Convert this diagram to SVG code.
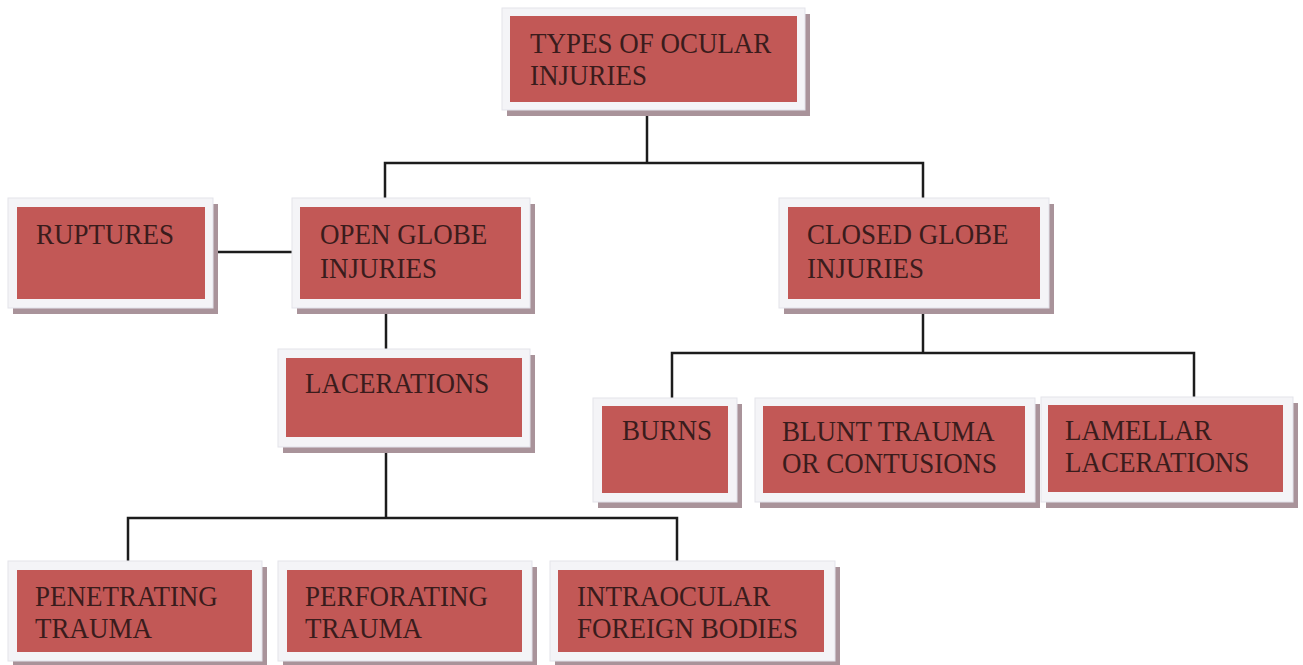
<svg xmlns="http://www.w3.org/2000/svg" width="1303" height="665" viewBox="0 0 1303 665">
<style>
.sh{fill:#a9939a}
.pn{fill:#f4f4f7;stroke:#e3e3ea;stroke-width:1}
.rd{fill:#c25856}
.tx{font-family:"Liberation Serif","Times New Roman",serif;font-size:30px;fill:#3a1c1c}
.cn{fill:none;stroke:#1c1c1c;stroke-width:2.5}
</style>
<rect width="1303" height="665" fill="#ffffff"/>
<g id="connectors" class="cn">
<path d="M647,110 V163"/>
<path d="M385,198 V163 H923 V198"/>
<path d="M213,252 H292"/>
<path d="M386,308 V349"/>
<path d="M923,308 V353"/>
<path d="M672,398 V353 H1194 V397"/>
<path d="M386,447 V518"/>
<path d="M128,561 V518 H677 V561"/>
</g>
<g id="n-types">
<rect class="sh" x="507" y="14" width="303" height="102"/>
<rect class="pn" x="502" y="8" width="303" height="102"/>
<rect class="rd" x="510" y="16" width="287" height="86"/>
<text class="tx" transform="translate(530,53) scale(0.9,1)"><tspan x="0" y="0">TYPES OF OCULAR</tspan><tspan x="0" y="32">INJURIES</tspan></text>
</g>
<g id="n-ruptures">
<rect class="sh" x="13" y="204" width="205" height="110"/>
<rect class="pn" x="8" y="198" width="205" height="110"/>
<rect class="rd" x="17" y="207" width="188" height="92"/>
<text class="tx" transform="translate(36,244) scale(0.9,1)"><tspan x="0" y="0">RUPTURES</tspan></text>
</g>
<g id="n-open">
<rect class="sh" x="297" y="204" width="238" height="110"/>
<rect class="pn" x="292" y="198" width="238" height="110"/>
<rect class="rd" x="300" y="207" width="221" height="92"/>
<text class="tx" transform="translate(320,244) scale(0.9,1)"><tspan x="0" y="0">OPEN GLOBE</tspan><tspan x="0" y="34">INJURIES</tspan></text>
</g>
<g id="n-closed">
<rect class="sh" x="784" y="204" width="270" height="110"/>
<rect class="pn" x="779" y="198" width="270" height="110"/>
<rect class="rd" x="788" y="207" width="252" height="92"/>
<text class="tx" transform="translate(807,244) scale(0.9,1)"><tspan x="0" y="0">CLOSED GLOBE</tspan><tspan x="0" y="34">INJURIES</tspan></text>
</g>
<g id="n-lacerations">
<rect class="sh" x="283" y="355" width="252" height="98"/>
<rect class="pn" x="278" y="349" width="252" height="98"/>
<rect class="rd" x="286" y="358" width="236" height="79"/>
<text class="tx" transform="translate(305,393) scale(0.9,1)"><tspan x="0" y="0">LACERATIONS</tspan></text>
</g>
<g id="n-burns">
<rect class="sh" x="598" y="404" width="144" height="104"/>
<rect class="pn" x="593" y="398" width="144" height="104"/>
<rect class="rd" x="602" y="406" width="126" height="87"/>
<text class="tx" transform="translate(622,440) scale(0.9,1)"><tspan x="0" y="0">BURNS</tspan></text>
</g>
<g id="n-blunt">
<rect class="sh" x="760" y="404" width="280" height="104"/>
<rect class="pn" x="755" y="398" width="280" height="104"/>
<rect class="rd" x="763" y="406" width="262" height="87"/>
<text class="tx" transform="translate(782,441) scale(0.9,1)"><tspan x="0" y="0">BLUNT TRAUMA</tspan><tspan x="0" y="32">OR CONTUSIONS</tspan></text>
</g>
<g id="n-lamellar">
<rect class="sh" x="1046" y="403" width="252" height="105"/>
<rect class="pn" x="1041" y="397" width="252" height="105"/>
<rect class="rd" x="1048" y="405" width="235" height="87"/>
<text class="tx" transform="translate(1065,440) scale(0.9,1)"><tspan x="0" y="0">LAMELLAR</tspan><tspan x="0" y="32">LACERATIONS</tspan></text>
</g>
<g id="n-penetrating">
<rect class="sh" x="13" y="567" width="254" height="100"/>
<rect class="pn" x="8" y="561" width="254" height="100"/>
<rect class="rd" x="17" y="570" width="235" height="82"/>
<text class="tx" transform="translate(35,606) scale(0.9,1)"><tspan x="0" y="0">PENETRATING</tspan><tspan x="0" y="32">TRAUMA</tspan></text>
</g>
<g id="n-perforating">
<rect class="sh" x="283" y="567" width="254" height="100"/>
<rect class="pn" x="278" y="561" width="254" height="100"/>
<rect class="rd" x="287" y="570" width="235" height="82"/>
<text class="tx" transform="translate(305,606) scale(0.9,1)"><tspan x="0" y="0">PERFORATING</tspan><tspan x="0" y="32">TRAUMA</tspan></text>
</g>
<g id="n-intraocular">
<rect class="sh" x="555" y="567" width="285" height="100"/>
<rect class="pn" x="550" y="561" width="285" height="100"/>
<rect class="rd" x="558" y="570" width="266" height="82"/>
<text class="tx" transform="translate(577,606) scale(0.9,1)"><tspan x="0" y="0">INTRAOCULAR</tspan><tspan x="0" y="32">FOREIGN BODIES</tspan></text>
</g>
</svg>
